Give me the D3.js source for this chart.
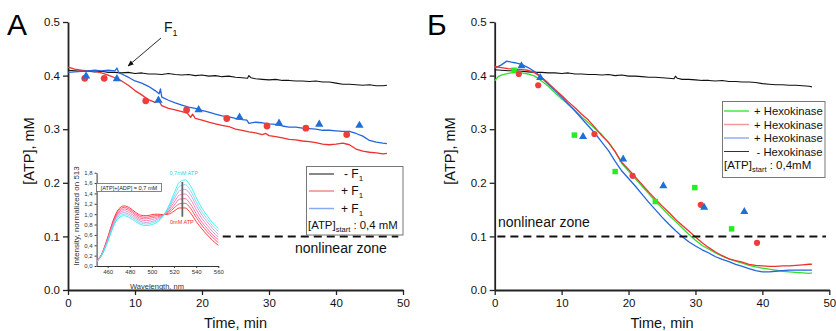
<!DOCTYPE html>
<html><head><meta charset="utf-8">
<script src="https://cdn.jsdelivr.net/npm/d3@7"></script>
<style>
body{margin:0;background:#fff}
svg{display:block;font-family:"Liberation Sans",Arial,sans-serif}
</style>
</head><body>
<svg id="c" width="836" height="331"></svg>
<script>
// ---------- shared axis ticks ----------
const xTickVals = [0, 10, 20, 30, 40, 50];
const xTickLabels = ["0", "10", "20", "30", "40", "50"];
const xMinorVals = [5, 15, 25, 35, 45];
const yTickVals = [0, 0.1, 0.2, 0.3, 0.4, 0.5];
const yTickLabels = ["0.0", "0.1", "0.2", "0.3", "0.4", "0.5"];
const yMinorVals = [0.05, 0.15, 0.25, 0.35, 0.45];

// ---------- panel A (F1) ----------
const aBlack = [[0,0.410],[1,0.409],[2,0.408],[3,0.408],[4,0.407],[5,0.408],[6,0.406],[7,0.406],[8,0.405],[9,0.406],[10,0.404],[11,0.405],[12,0.403],[13,0.403],[14,0.402],[15,0.404],[16,0.402],[17,0.401],[18,0.402],[19,0.400],[20,0.401],[21,0.399],[22,0.400],[23,0.398],[24,0.399],[25,0.397],[26,0.396],[26.8,0.395],[27,0.400],[27.3,0.396],[28,0.394],[29,0.393],[30,0.392],[31,0.393],[32,0.391],[33,0.391],[34,0.390],[35,0.390],[36,0.389],[37,0.390],[38,0.388],[39,0.388],[40,0.386],[41,0.384],[42,0.384],[43,0.383],[44,0.382],[45,0.383],[46,0.381],[47,0.381],[47.6,0.382]];
const aRed = [[0,0.416],[1,0.412],[2,0.410],[3,0.409],[4,0.408],[5,0.405],[6,0.401],[7,0.396],[8,0.390],[9,0.382],[10,0.372],[11,0.364],[12,0.355],[13,0.350],[13.5,0.354],[14,0.344],[15,0.339],[16,0.336],[17,0.333],[17.8,0.330],[18.3,0.322],[18.6,0.328],[19,0.320],[20,0.317],[21,0.313],[22,0.310],[23,0.307],[24,0.305],[25,0.300],[26,0.298],[27,0.295],[28,0.293],[29,0.290],[29.5,0.292],[30,0.288],[31,0.286],[32,0.284],[33,0.281],[34,0.280],[35,0.278],[36,0.277],[37,0.275],[38,0.272],[39,0.271],[40,0.272],[41,0.274],[42,0.271],[43,0.263],[44,0.259],[45,0.257],[46,0.256],[47,0.254],[47.6,0.255]];
const aBlue = [[0,0.406],[1,0.407],[2,0.408],[3,0.409],[4,0.410],[5,0.409],[6,0.410],[7,0.409],[7.3,0.414],[7.6,0.405],[8,0.403],[9,0.397],[10,0.390],[11,0.386],[12,0.380],[13,0.372],[13.6,0.366],[13.8,0.375],[14,0.360],[15,0.354],[16,0.349],[17,0.345],[18,0.341],[19,0.339],[20,0.335],[21,0.332],[22,0.328],[23,0.325],[24,0.323],[25,0.320],[26,0.318],[26.7,0.317],[27,0.311],[28,0.313],[29,0.312],[30,0.310],[31,0.309],[32,0.306],[33,0.304],[34,0.304],[35,0.302],[36,0.301],[37,0.300],[38,0.298],[39,0.298],[40,0.297],[41,0.296],[42,0.296],[43,0.292],[44,0.287],[45,0.279],[46,0.276],[47,0.274],[47.6,0.273]];
const aRedDots = [[2.5,0.395],[5.4,0.395],[11.6,0.353],[17.7,0.336],[23.7,0.320],[29.7,0.306],[35.5,0.302],[41.6,0.290]];
const aBlueTri = [[2.7,0.399],[7.3,0.394],[13.5,0.354],[19.5,0.336],[25.6,0.322],[31.5,0.311],[37.5,0.309],[43.5,0.307]];
const aLegend = ["- F", "+ F", "+ F"];

// ---------- inset spectra ----------
const wavelengths = [450,455,460,465,470,475,480,485,490,495,500,505,510,515,520,525,530,535,540,545,550,555,560];
const spec0 = [0.08,0.25,0.55,0.88,1.10,1.16,1.12,1.04,0.98,0.97,0.99,1.00,0.99,1.00,1.06,1.12,1.12,1.02,0.86,0.72,0.60,0.49,0.40];
const spec1 = [0.08,0.245,0.535,0.86,1.07,1.13,1.09,1.01,0.95,0.94,0.96,0.975,0.985,1.025,1.12,1.20,1.21,1.11,0.94,0.79,0.66,0.55,0.45];
const spec2 = [0.08,0.24,0.52,0.84,1.04,1.10,1.06,0.98,0.92,0.91,0.93,0.95,0.98,1.05,1.17,1.29,1.30,1.19,1.01,0.85,0.72,0.60,0.51];
const spec3 = [0.08,0.235,0.505,0.815,1.015,1.065,1.025,0.95,0.89,0.875,0.895,0.925,0.975,1.075,1.23,1.37,1.39,1.28,1.09,0.92,0.785,0.66,0.56];
const spec4 = [0.08,0.23,0.49,0.79,0.99,1.03,0.99,0.92,0.86,0.84,0.86,0.90,0.97,1.10,1.29,1.45,1.48,1.37,1.17,0.99,0.85,0.72,0.61];
const spec5 = [0.08,0.225,0.475,0.77,0.96,1.00,0.96,0.89,0.83,0.81,0.83,0.875,0.965,1.125,1.34,1.54,1.57,1.45,1.24,1.05,0.91,0.77,0.67];
const spec6 = [0.08,0.22,0.46,0.75,0.93,0.97,0.93,0.86,0.80,0.78,0.80,0.85,0.96,1.15,1.40,1.62,1.66,1.54,1.32,1.12,0.97,0.83,0.72];
const spectra = [spec0, spec1, spec2, spec3, spec4, spec5, spec6];
const spectraColors = ["#ff2424","#ff4466","#ff6090","#f27ab6","#c49ad8","#6cdcf0","#2eeef2"];
const insetXTicks = [460,480,500,520,540,560];
const insetYTicks = [0,0.2,0.4,0.6,0.8,1.0,1.2,1.4,1.6,1.8];
const insetYLabels = ["0,0","0,2","0,4","0,6","0,8","1,0","1,2","1,4","1,6","1,8"];

// ---------- panel Б (Hexokinase) ----------
const bBlack = [[0,0.411],[1,0.410],[2,0.409],[3,0.409],[4,0.408],[5,0.407],[6,0.406],[7,0.406],[8,0.405],[9,0.405],[10,0.404],[11,0.405],[12,0.403],[13,0.403],[14,0.402],[15,0.402],[16,0.401],[17,0.402],[18,0.400],[19,0.401],[20,0.399],[21,0.399],[22,0.398],[23,0.397],[24,0.397],[25,0.396],[26,0.395],[26.8,0.394],[27,0.399],[27.3,0.395],[28,0.393],[29,0.393],[30,0.392],[31,0.391],[32,0.391],[33,0.390],[34,0.391],[35,0.389],[36,0.389],[37,0.388],[38,0.388],[39,0.387],[40,0.385],[41,0.384],[42,0.383],[43,0.383],[44,0.382],[45,0.382],[46,0.381],[47,0.380],[47.4,0.379]];
const bGreen = [[0,0.390],[0.5,0.398],[1,0.401],[2,0.404],[3,0.406],[4,0.405],[5,0.403],[6,0.399],[7,0.390],[8,0.380],[9,0.368],[10,0.357],[11,0.346],[12,0.335],[13,0.323],[14,0.312],[15,0.301],[16,0.290],[17,0.276],[18,0.258],[19,0.236],[20,0.222],[21,0.208],[22,0.194],[23,0.180],[24,0.166],[25,0.153],[26,0.140],[27,0.128],[28,0.116],[29,0.104],[30,0.093],[31,0.083],[32,0.076],[33,0.069],[34,0.063],[35,0.058],[36,0.054],[37,0.050],[38,0.046],[39,0.043],[40,0.041],[41,0.039],[42,0.037],[43,0.035],[44,0.034],[45,0.033],[46,0.032],[47,0.031],[47.4,0.032]];
const bRed = [[0,0.417],[1,0.415],[2,0.413],[3,0.412],[4,0.411],[5,0.410],[6,0.405],[7,0.397],[8,0.386],[9,0.374],[10,0.363],[11,0.351],[12,0.340],[13,0.328],[14,0.317],[15,0.303],[16,0.288],[17,0.275],[18,0.258],[18.5,0.248],[19,0.238],[20,0.225],[21,0.211],[22,0.197],[23,0.183],[24,0.170],[25,0.157],[26,0.145],[27,0.132],[28,0.121],[29,0.110],[30,0.099],[31,0.088],[32,0.079],[33,0.071],[34,0.064],[35,0.058],[36,0.055],[37,0.052],[38,0.048],[39,0.046],[40,0.045],[41,0.044],[42,0.044],[43,0.045],[44,0.045],[45,0.046],[46,0.047],[47,0.048],[47.4,0.048]];
const bBlue = [[0,0.414],[1,0.420],[1.8,0.427],[2.5,0.425],[3,0.424],[4,0.421],[5,0.415],[6,0.407],[7,0.396],[8,0.384],[9,0.372],[10,0.360],[11,0.347],[12,0.334],[13,0.320],[14,0.306],[15,0.292],[16,0.276],[17,0.260],[18,0.240],[19,0.222],[20,0.208],[21,0.194],[22,0.179],[23,0.164],[24,0.150],[25,0.136],[26,0.123],[27,0.111],[28,0.100],[29,0.090],[30,0.082],[31,0.075],[32,0.069],[33,0.062],[34,0.057],[35,0.053],[36,0.048],[37,0.044],[38,0.040],[39,0.036],[40,0.034],[41,0.034],[42,0.035],[43,0.036],[44,0.037],[45,0.037],[46,0.037],[47,0.037],[47.4,0.037]];
const bGreenSq = [[2.9,0.410],[11.9,0.289],[18.0,0.221],[24.0,0.165],[29.9,0.191],[35.4,0.114]];
const bRedDots = [[3.6,0.403],[6.5,0.382],[14.9,0.291],[20.6,0.213],[30.8,0.159],[39.2,0.088]];
const bBlueTri = [[4.0,0.418],[6.8,0.396],[13.2,0.286],[19.2,0.244],[25.2,0.194],[31.3,0.154],[37.3,0.146]];
const bLegend = ["+ Hexokinase", "+ Hexokinase", "+ Hexokinase", "- Hexokinase"];

const nonlinearLevel = 0.1;

// ---------- colours ----------
const C = { black:"#111", red:"#ee3030", blue:"#2266dd", green:"#2ee02e",
            redDot:"#ee3d3d", blueTri:"#1f6fd6", greenSq:"#22ee22", axis:"#222" };

const svg = d3.select("#c");

function makeAxes(g, x, y) {
  const ax = g.append("g").attr("transform", `translate(0,${y(0)})`);
  ax.call(d3.axisBottom(x).tickValues(xMinorVals).tickSize(3).tickFormat("").tickSizeOuter(0));
  ax.call(d3.axisBottom(x).tickValues(xTickVals).tickSize(5).tickSizeOuter(0)
          .tickFormat((d,i)=>xTickLabels[i]).tickPadding(4));
  const ay = g.append("g").attr("transform", `translate(${x(0)},0)`);
  ay.call(d3.axisLeft(y).tickValues(yMinorVals).tickSize(3).tickFormat("").tickSizeOuter(0));
  ay.call(d3.axisLeft(y).tickValues(yTickVals).tickSize(5).tickSizeOuter(0)
          .tickFormat((d,i)=>yTickLabels[i]).tickPadding(3));
  [ax, ay].forEach(a => {
    a.selectAll(".domain").attr("stroke", C.axis).attr("stroke-width", 1.8);
    a.selectAll(".tick line").attr("stroke", C.axis).attr("stroke-width", 1.3);
    a.selectAll(".tick text").attr("font-size", 11.5).attr("fill", "#111")
      .attr("font-family", '"Liberation Sans",Arial,sans-serif');
  });
}

function drawLine(g, x, y, data, color, w) {
  g.append("path").datum(data).attr("fill", "none").attr("stroke", color)
    .attr("stroke-width", w).attr("stroke-linejoin", "round")
    .attr("d", d3.line().x(d => x(d[0])).y(d => y(d[1])));
}
function drawCircles(g, x, y, data, color, r) {
  g.selectAll(null).data(data).enter().append("circle")
    .attr("cx", d => x(d[0])).attr("cy", d => y(d[1])).attr("r", r).attr("fill", color);
}
function drawSymbols(g, x, y, data, type, size, color) {
  g.selectAll(null).data(data).enter().append("path")
    .attr("transform", d => `translate(${x(d[0])},${y(d[1])})`)
    .attr("d", d3.symbol(type, size)).attr("fill", color);
}
function axisTitles(g, xc, yTitleX, panelLetter, letterX) {
  g.append("text").attr("x", xc).attr("y", 328).attr("text-anchor", "middle")
    .attr("font-size", 14.5).attr("fill", "#111").text("Time, min");
  g.append("text").attr("transform", `translate(${yTitleX},151) rotate(-90)`)
    .attr("text-anchor", "middle").attr("font-size", 14.5).attr("fill", "#111").text("[ATP], mM");
  g.append("text").attr("x", letterX).attr("y", 35).attr("font-size", 30).attr("fill", "#000").text(panelLetter);
}

// =============== Panel A ===============
{
  const g = svg.append("g");
  const x = d3.scaleLinear([0, 50], [68, 403]);
  const y = d3.scaleLinear([0, 0.5], [290, 22]);
  makeAxes(g, x, y);
  axisTitles(g, x(25), 34, "A", 7);

  drawLine(g, x, y, aBlack, C.black, 1.1);
  drawLine(g, x, y, aRed, C.red, 1.3);
  drawLine(g, x, y, aBlue, C.blue, 1.3);
  drawCircles(g, x, y, aRedDots, C.redDot, 3.4);
  drawSymbols(g, x, y, aBlueTri, d3.symbolTriangle, 30, C.blueTri);

  // dashed nonlinear line
  g.append("line").attr("x1", x(23.1)).attr("x2", x(49.3)).attr("y1", y(nonlinearLevel)).attr("y2", y(nonlinearLevel))
    .attr("stroke", "#111").attr("stroke-width", 2).attr("stroke-dasharray", "8,5");
  g.append("text").attr("x", 295).attr("y", 253).attr("font-size", 14).attr("fill", "#111").text("nonlinear zone");

  // F1 arrow annotation
  svg.append("defs").append("marker").attr("id", "arr").attr("viewBox", "0 0 10 10")
    .attr("refX", 9).attr("refY", 5).attr("markerWidth", 7).attr("markerHeight", 7)
    .attr("orient", "auto").append("path").attr("d", "M0,1L10,5L0,9z").attr("fill", "#111");
  g.append("line").attr("x1", 161).attr("y1", 38).attr("x2", 128).attr("y2", 66)
    .attr("stroke", "#111").attr("stroke-width", 0.9).attr("marker-end", "url(#arr)");
  const ft = g.append("text").attr("x", 164).attr("y", 32).attr("font-size", 14).attr("fill", "#111");
  ft.append("tspan").text("F");
  ft.append("tspan").attr("dy", 4).attr("font-size", 9).text("1");

  // legend
  const lg = g.append("g");
  lg.append("rect").attr("x", 306.5).attr("y", 166.5).attr("width", 96.5).attr("height", 68.5)
    .attr("fill", "#fff").attr("stroke", "#777").attr("stroke-width", 1);
  const lcols = [C.black, "#f28a8a", "#88aaee"];
  const lys = [174, 191, 208.5];
  aLegend.forEach((t, i) => {
    lg.append("line").attr("x1", 309).attr("x2", 334).attr("y1", lys[i]).attr("y2", lys[i])
      .attr("stroke", lcols[i]).attr("stroke-width", i === 0 ? 1 : 1.5);
    const tx = lg.append("text").attr("x", i === 0 ? 344 : 341).attr("y", lys[i] + 4)
      .attr("font-size", 12).attr("fill", "#111");
    tx.append("tspan").text(t);
    tx.append("tspan").attr("dy", 3).attr("font-size", 8).text("1");
  });
  const st = lg.append("text").attr("x", 308).attr("y", 229).attr("font-size", 11.4).attr("fill", "#111");
  st.append("tspan").text("[ATP]");
  st.append("tspan").attr("dy", 3).attr("font-size", 7.5).text("start");
  st.append("tspan").attr("dy", -3).text(" : 0,4 mM");

  // ---------- inset ----------
  const ig = g.append("g");
  const ix = d3.scaleLinear([450, 560], [96.6, 218.3]);
  const iy = d3.scaleLinear([0, 1.8], [266, 172.7]);
  const ixa = ig.append("g").attr("transform", "translate(0,266)")
    .call(d3.axisBottom(ix).tickValues(insetXTicks).tickSize(2).tickSizeOuter(0).tickPadding(2));
  const iya = ig.append("g").attr("transform", "translate(96.6,0)")
    .call(d3.axisLeft(iy).tickValues(insetYTicks).tickSize(2).tickSizeOuter(0).tickPadding(2)
      .tickFormat((d, i) => insetYLabels[i]));
  [ixa, iya].forEach(a => {
    a.selectAll(".domain").attr("stroke", "#333").attr("stroke-width", 1);
    a.selectAll(".tick line").attr("stroke", "#333");
    a.selectAll(".tick text").attr("font-size", 6).attr("fill", "#333")
      .attr("font-family", '"Liberation Sans",Arial,sans-serif');
  });
  const sline = d3.line().x((d, i) => ix(wavelengths[i])).y(d => iy(d)).curve(d3.curveMonotoneX);
  spectra.forEach((s, k) => {
    ig.append("path").datum(s).attr("fill", "none").attr("stroke", spectraColors[k])
      .attr("stroke-width", 0.9).attr("d", sline);
  });
  ig.append("line").attr("x1", ix(527.5)).attr("x2", ix(527.5)).attr("y1", iy(1.62)).attr("y2", iy(0.95))
    .attr("stroke", "#666").attr("stroke-width", 1.8);
  ig.append("text").attr("x", 169.5).attr("y", 175).attr("font-size", 5.5).attr("fill", "#22d8e8").text("0,7mM ATP");
  ig.append("text").attr("x", 170).attr("y", 223.5).attr("font-size", 5.5).attr("fill", "#ee3030").text("0mM ATP");
  ig.append("rect").attr("x", 96.5).attr("y", 183.5).attr("width", 65).attr("height", 8)
    .attr("fill", "#fff").attr("stroke", "#666").attr("stroke-width", 0.8);
  ig.append("text").attr("x", 129).attr("y", 189.6).attr("text-anchor", "middle").attr("font-size", 5.6)
    .attr("fill", "#222").text("[ATP]+[ADP] = 0,7 mM");
  ig.append("text").attr("transform", "translate(79,216) rotate(-90)").attr("text-anchor", "middle")
    .attr("font-size", 8).attr("fill", "#333").text("Intensity, normalized on 513");
  ig.append("text").attr("x", 157).attr("y", 289).attr("text-anchor", "middle")
    .attr("font-size", 7.5).attr("fill", "#333").text("Wavelength, nm");
}

// =============== Panel Б ===============
{
  const g = svg.append("g");
  const x = d3.scaleLinear([0, 50], [494.7, 829.3]);
  const y = d3.scaleLinear([0, 0.5], [290, 22]);
  makeAxes(g, x, y);
  axisTitles(g, x(25), 455, "Б", 427);

  drawLine(g, x, y, bBlack, C.black, 1.1);
  drawLine(g, x, y, bGreen, C.green, 1.3);
  drawLine(g, x, y, bBlue, C.blue, 1.3);
  drawLine(g, x, y, bRed, C.red, 1.3);
  drawSymbols(g, x, y, bGreenSq, d3.symbolSquare, 30, C.greenSq);
  drawCircles(g, x, y, bRedDots, C.redDot, 3.1);
  drawSymbols(g, x, y, bBlueTri, d3.symbolTriangle, 28, C.blueTri);

  g.append("line").attr("x1", x(0.4)).attr("x2", x(49.5)).attr("y1", y(nonlinearLevel)).attr("y2", y(nonlinearLevel))
    .attr("stroke", "#111").attr("stroke-width", 2).attr("stroke-dasharray", "8,5");
  g.append("text").attr("x", 498).attr("y", 227).attr("font-size", 14).attr("fill", "#111").text("nonlinear zone");

  const lg = g.append("g");
  lg.append("rect").attr("x", 722.5).attr("y", 101.5).attr("width", 102.5).attr("height", 76)
    .attr("fill", "#fff").attr("stroke", "#777").attr("stroke-width", 1);
  const lcols = ["#44e844", "#f59a9a", "#8fb0ee", "#333"];
  const lys = [111, 124.5, 138, 151.5];
  bLegend.forEach((t, i) => {
    lg.append("line").attr("x1", 724).attr("x2", 749).attr("y1", lys[i]).attr("y2", lys[i])
      .attr("stroke", lcols[i]).attr("stroke-width", i === 3 ? 1 : 1.5);
    lg.append("text").attr("x", i === 3 ? 756.5 : 754).attr("y", lys[i] + 4).attr("font-size", 11.3)
      .attr("fill", "#111").text(t);
  });
  const st = lg.append("text").attr("x", 724).attr("y", 169).attr("font-size", 11.5).attr("fill", "#111");
  st.append("tspan").text("[ATP]");
  st.append("tspan").attr("dy", 3).attr("font-size", 7.5).text("start");
  st.append("tspan").attr("dy", -3).text(" : 0,4mM");
}
</script>
</body></html>
